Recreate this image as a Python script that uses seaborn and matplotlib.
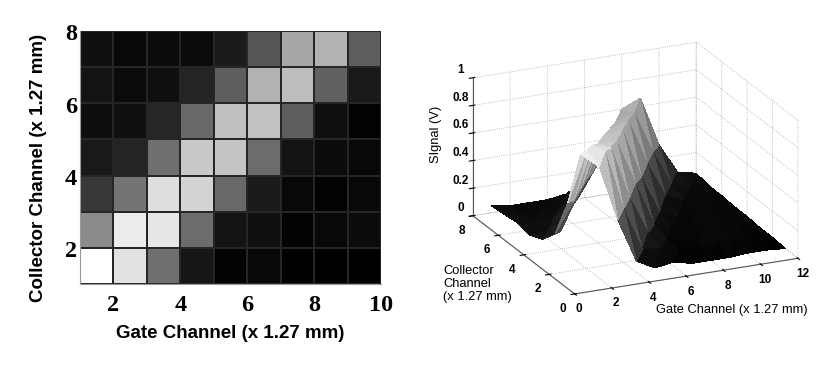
import matplotlib
matplotlib.use("Agg")
import matplotlib.pyplot as plt
import matplotlib.transforms as mtrans
import seaborn as sns
import numpy as np

gate_channels = np.arange(1, 13)
collector_channels = np.arange(1, 9)

# signal (V), one row per collector channel 1..8, gate channels 1..12
c1 = [.92, .81, .40, .08, .01, .03, .00, .00, .00, .01, .01, .00]
c2 = [.50, .85, .83, .39, .07, .06, .01, .03, .04, .03, .02, .01]
c3 = [.20, .42, .80, .76, .38, .10, .03, .01, .03, .03, .02, .01]
c4 = [.09, .13, .40, .72, .71, .39, .07, .04, .03, .03, .03, .02]
c5 = [.05, .06, .14, .38, .69, .70, .34, .06, .01, .03, .03, .02]
c6 = [.07, .04, .06, .13, .34, .64, .68, .35, .09, .04, .03, .03]
c7 = [.06, .03, .04, .04, .10, .31, .60, .64, .34, .08, .04, .03]
c8 = [.05, .03, .03, .03, .05, .12, .30, .60, .66, .30, .08, .05]
signal = np.array([c1, c2, c3, c4, c5, c6, c7, c8])

heat_xticks = [2, 4, 6, 8, 10]
heat_yticks = [2, 4, 6, 8]
surf_xticks = [0, 2, 4, 6, 8, 10, 12]
surf_yticks = [0, 2, 4, 6, 8]
surf_zticks = [0, 0.2, 0.4, 0.6, 0.8, 1]
surf_zlabels = ["0", "0.2", "0.4", "0.6", "0.8", "1"]

W, H = 817, 366
fig = plt.figure(figsize=(W / 100, H / 100), dpi=100)

#%% heatmap
ax = fig.add_axes([80 / W, 1 - 284 / H, 301 / W, 253 / H])
# pcolor style: last gate/collector column is not drawn, first row on top is collector 7
cells = signal[:7, :9][::-1]
sns.heatmap(cells, ax=ax, cmap="gray", vmin=0, vmax=.92, cbar=False, square=False,
            linewidths=0.08, linecolor="#262626")
ax.set_xticks([g - 1 for g in heat_xticks])
ax.set_xticklabels(heat_xticks, rotation=0, family="Liberation Serif", weight="bold", fontsize=17.5)
ax.set_yticks([8 - c for c in heat_yticks])
ax.set_yticklabels(heat_yticks, rotation=0, family="Liberation Serif", weight="bold", fontsize=17.5)
ax.tick_params(length=0, pad=2)
ax.tick_params(axis="x", pad=8)
# the y labels sit a little below their ticks in the original
for t in ax.get_yticklabels():
    t.set_transform(t.get_transform() + mtrans.ScaledTranslation(0, -4 / 100, fig.dpi_scale_trans))
for s in ["left", "bottom"]:
    ax.spines[s].set_visible(True)
    ax.spines[s].set_color("#999999")
    ax.spines[s].set_linewidth(0.8)
fig.text(230 / W, 1 - 334 / H, "Gate Channel (x 1.27 mm)", ha="center", va="center",
         family="Liberation Sans", weight="bold", fontsize=13.5)
fig.text(39 / W, 1 - 168 / H, "Collector Channel (x 1.27 mm)", ha="center", va="center", rotation=90,
         family="Liberation Sans", weight="bold", fontsize=13.5)

#%% surface
ax3 = fig.add_axes([422 / W, 10 / H, 417 / W, 1.0], projection="3d", proj_type="ortho")
ax3.patch.set_alpha(0)
ax3.view_init(elev=20.5, azim=-114.5)
ax3.set_box_aspect((1, 1, 0.6), zoom=1.0)
X, Y = np.meshgrid(gate_channels, collector_channels)
# split every quad along the ridge direction so the diagonal ridge stays clean
nr, nc = X.shape
tris = []
for j in range(nr - 1):
    for i in range(nc - 1):
        p = j * nc + i
        tris.append([p, p + 1, p + nc + 1])
        tris.append([p, p + nc + 1, p + nc])
ax3.plot_trisurf(X.ravel(), Y.ravel(), signal.ravel(), triangles=tris, cmap="gray", vmin=0, vmax=.92,
                 linewidth=0, antialiased=False, shade=False)
ax3.set_xlim(0, 12)
ax3.set_ylim(0, 8)
ax3.set_zlim(0, 1)
ax3.set_xticks(surf_xticks)
ax3.set_yticks(surf_yticks)
ax3.set_zticks(surf_zticks)
ax3.set_zticklabels(surf_zlabels)
for a in [ax3.xaxis, ax3.yaxis, ax3.zaxis]:
    a.set_pane_color((1, 1, 1, 0))
    a.pane.set_edgecolor((1, 1, 1, 0))
    a._axinfo["grid"].update(color="#aaaaaa", linestyle=":", linewidth=0.6)
    a.line.set_color("#555555")
    a.line.set_linewidth(0.8)
    for t in a.get_ticklabels():
        t.set_family("Liberation Sans")
        t.set_weight("bold")
        t.set_fontsize(8.5)
ax3.tick_params(axis="z", pad=-3, length=2)
ax3.tick_params(axis="y", pad=-1, length=2)
ax3.tick_params(axis="x", pad=-2, length=2)
for t in ax3.zaxis.get_ticklabels():
    t.set_va("bottom")

fig.text(436 / W, 1 - 134 / H, "SIgnal (V)", rotation=90, ha="center", va="center",
         family="Liberation Sans", fontsize=9.3)
fig.text(443 / W, 1 - 284 / H, "Collector\nChannel\n(x 1.27 mm)", ha="left", va="center",
         family="Liberation Sans", fontsize=9.3, linespacing=1.15)
fig.text(732 / W, 1 - 310 / H, "Gate Channel (x 1.27 mm)", ha="center", va="center",
         family="Liberation Sans", fontsize=9.3)

fig.savefig("out.png", dpi=100)
